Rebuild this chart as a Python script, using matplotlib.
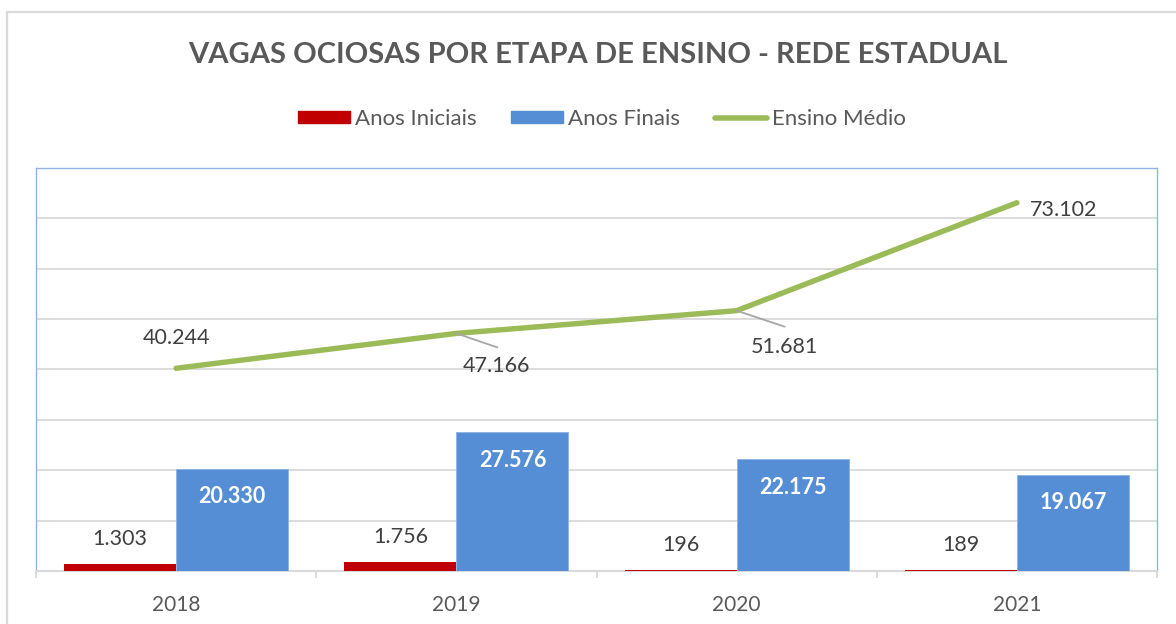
import matplotlib
matplotlib.use("Agg")
import matplotlib.pyplot as plt
from matplotlib.patches import Rectangle
from matplotlib.lines import Line2D
import numpy as np

years = ["2018", "2019", "2020", "2021"]
anos_iniciais = [1303, 1756, 196, 189]
anos_finais = [20330, 27576, 22175, 19067]
ensino_medio = [40244, 47166, 51681, 73102]

title = "VAGAS OCIOSAS POR ETAPA DE ENSINO - REDE ESTADUAL"
series_names = ["Anos Iniciais", "Anos Finais", "Ensino Médio"]

RED = "#C00000"
BLUE = "#558ED5"
GREEN = "#9BBB59"
GRID = "#D9D9D9"
TXT = "#404040"
TXT2 = "#595959"
FONT = "Lato"

def fmt(v):
    return f"{v:,}".replace(",", ".")

fig = plt.figure(figsize=(11.76, 6.24), dpi=100)
fig.patch.set_facecolor("white")

# outer chart border (cropped on right/bottom)
fig.patches.append(Rectangle((7 / 1176, -0.2), 1.5, (624 - 12) / 624 + 0.2,
                             transform=fig.transFigure, fill=False,
                             edgecolor=GRID, linewidth=1.6))

ax = fig.add_axes([36 / 1176, (624 - 571) / 624, (1157 - 36) / 1176, (571 - 168) / 624])
x = np.arange(len(years))
w = 0.4
ax.bar(x - w / 2, anos_iniciais, width=w, color=RED, zorder=3)
ax.bar(x + w / 2, anos_finais, width=w, color=BLUE, zorder=3,
       edgecolor="#8DB3E2", linewidth=0.6)
ax.plot(x, ensino_medio, color=GREEN, linewidth=3.9, zorder=4,
        solid_capstyle="round", solid_joinstyle="round")

ax.set_xlim(-0.5, len(years) - 0.5)
ax.set_ylim(0, 80000)
ax.set_yticks(np.arange(10000, 80001, 10000))
ax.yaxis.grid(True, color=GRID, linewidth=1.3, zorder=0)
ax.tick_params(axis="y", left=False, labelleft=False)
ax.set_xticks(x)
ax.set_xticklabels(years, fontfamily=FONT, fontsize=15, color=TXT2)
ax.tick_params(axis="x", which="major", length=0, pad=17)
ax.set_xticks(np.arange(-0.5, len(years), 1.0), minor=True)
ax.tick_params(axis="x", which="minor", length=5, width=1.3, color=GRID, direction="out")

for side in ["left", "top", "right"]:
    ax.spines[side].set_color("#8EB4E3")
    ax.spines[side].set_linewidth(1.0)
ax.spines["bottom"].set_color(GRID)
ax.spines["bottom"].set_linewidth(1.5)
ax.set_axisbelow(True)

# labels for red bars
for xi, v in zip(x, anos_iniciais):
    ax.annotate(fmt(v), xy=(xi - w / 2, v), xytext=(0, 25), textcoords="offset pixels",
                ha="center", va="center", fontfamily=FONT, fontsize=15.5, color=TXT, zorder=5)
# labels for blue bars
for xi, v in zip(x, anos_finais):
    ax.annotate(fmt(v), xy=(xi + w / 2, v), xytext=(0, -28), textcoords="offset pixels",
                ha="center", va="center", fontfamily=FONT, fontsize=15.5, color="white",
                fontweight="bold", zorder=5)

# line labels
offsets = [(0, 30, "center"), (40, -33, "center"), (48, -36, "center"), (13, -7, "left")]
leaders = [None, (41, -14), (48, -16), None]
for xi, v, (dx, dy, ha), ld in zip(x, ensino_medio, offsets, leaders):
    ax.annotate(fmt(v), xy=(xi, v), xytext=(dx, dy), textcoords="offset pixels",
                ha=ha, va="center", fontfamily=FONT, fontsize=15.5, color=TXT, zorder=6)
    if ld is not None:
        ax.annotate("", xy=(xi, v), xytext=ld, textcoords="offset pixels",
                    arrowprops=dict(arrowstyle="-", color="#A6A6A6", lw=1.3,
                                    shrinkA=0, shrinkB=0), zorder=5)

fig.text(597.5 / 1176, 1 - 55 / 624, title, ha="center", va="center",
         fontfamily=FONT, fontweight="bold", fontsize=21, color=TXT2)

handles = [Rectangle((0, 0), 1, 1, color=RED),
           Rectangle((0, 0), 1, 1, color=BLUE),
           Line2D([0], [0], color=GREEN, linewidth=4.0, solid_capstyle="round")]
leg = fig.legend(handles, series_names, loc="center", bbox_to_anchor=(602 / 1176, 1 - 119 / 624),
                 ncol=3, frameon=False, prop={"family": FONT, "size": 16},
                 handlelength=2.34, handleheight=0.5, handletextpad=0.23, columnspacing=1.55)
for t in leg.get_texts():
    t.set_color(TXT2)

fig.savefig("out.png", dpi=100, facecolor="white")
